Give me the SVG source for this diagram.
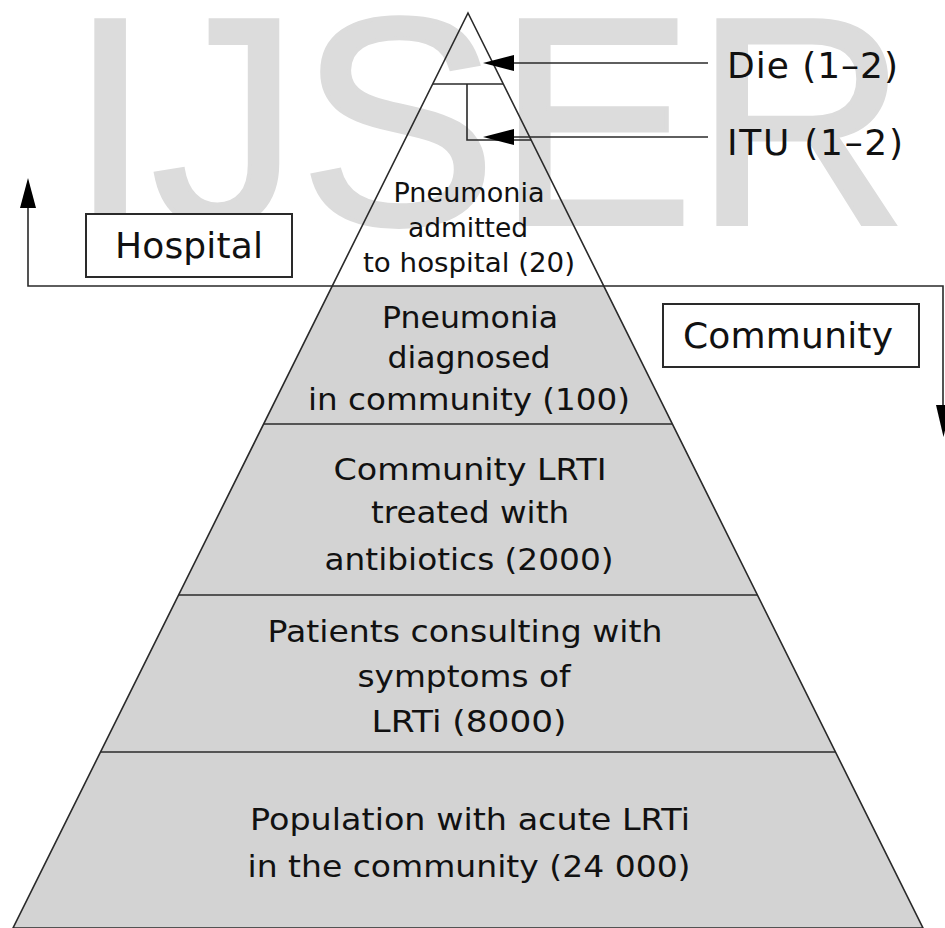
<svg xmlns="http://www.w3.org/2000/svg" width="945" height="928" viewBox="0 0 945 928">
<style>
.wm{font-family:"Liberation Sans",Arial,sans-serif;font-size:296px;fill:#dcdcdc;stroke:#dcdcdc;stroke-width:4}
.t{font-family:"DejaVu Sans","Liberation Sans",sans-serif;fill:#111;text-anchor:middle}
.s26{font-size:26px}
.s30{font-size:30px}
.s36{font-size:36px}
.ln{stroke:#2a2a2a;stroke-width:1.6;fill:none}
.box{fill:#fff;stroke:#2a2a2a;stroke-width:2}
.ah{fill:#000}
</style>
<rect width="945" height="928" fill="#fff"/>
<text class="wm" x="69" y="224">IJSER</text>

<g id="pyramid">
<polygon points="332,286 604,286 923,928 13,928" fill="#d3d3d3"/>
<polygon points="468,13 923,928 13,928" class="ln"/>
</g>

<g id="connectors">
<line class="ln" x1="433" y1="84" x2="503" y2="84"/>
<polyline class="ln" points="467,84 467,140 531,140"/>
<line class="ln" x1="500" y1="63" x2="708" y2="63"/>
<polygon class="ah" points="483,63 514,55 514,71"/>
<line class="ln" x1="500" y1="137" x2="708" y2="137"/>
<polygon class="ah" points="483,137 514,129 514,145"/>
<polyline class="ln" points="28,200 28,286 943,286 943,410"/>
<polygon class="ah" points="28,178 20,208 36,208"/>
<polygon class="ah" points="943.5,437 936,405 951,405"/>
<line class="ln" x1="264" y1="424" x2="672" y2="424"/>
<line class="ln" x1="178" y1="595" x2="758" y2="595"/>
<line class="ln" x1="100" y1="752" x2="836" y2="752"/>
</g>

<g id="die">
<text class="t s36" x="727" y="78" style="text-anchor:start" textLength="171">Die (1–2)</text>
</g>
<g id="itu">
<text class="t s36" x="727" y="155" style="text-anchor:start" textLength="176">ITU (1–2)</text>
</g>
<g id="hospital">
<rect class="box" x="86" y="214" width="206" height="63"/>
<text class="t s36" x="189" y="258" textLength="148">Hospital</text>
</g>
<g id="community">
<rect class="box" x="663" y="304" width="256" height="63"/>
<text class="t s36" x="788" y="348" textLength="210">Community</text>
</g>

<g id="level-hospital">
<text class="t s26" x="469" y="202" textLength="151" lengthAdjust="spacingAndGlyphs">Pneumonia</text>
<text class="t s26" x="468" y="237" textLength="120" lengthAdjust="spacingAndGlyphs">admitted</text>
<text class="t s26" x="469" y="272" textLength="212" lengthAdjust="spacingAndGlyphs">to hospital (20)</text>
</g>
<g id="level-diagnosed">
<text class="t s30" x="470" y="328" textLength="176" lengthAdjust="spacingAndGlyphs">Pneumonia</text>
<text class="t s30" x="469" y="368" textLength="163" lengthAdjust="spacingAndGlyphs">diagnosed</text>
<text class="t s30" x="469" y="410" textLength="322" lengthAdjust="spacingAndGlyphs">in community (100)</text>
</g>
<g id="level-antibiotics">
<text class="t s30" x="470" y="480" textLength="273" lengthAdjust="spacingAndGlyphs">Community LRTI</text>
<text class="t s30" x="470" y="523" textLength="198" lengthAdjust="spacingAndGlyphs">treated with</text>
<text class="t s30" x="469" y="570" textLength="289" lengthAdjust="spacingAndGlyphs">antibiotics (2000)</text>
</g>
<g id="level-consulting">
<text class="t s30" x="465" y="642" textLength="395" lengthAdjust="spacingAndGlyphs">Patients consulting with</text>
<text class="t s30" x="464" y="687" textLength="213" lengthAdjust="spacingAndGlyphs">symptoms of</text>
<text class="t s30" x="469" y="732" textLength="195" lengthAdjust="spacingAndGlyphs">LRTi (8000)</text>
</g>
<g id="level-population">
<text class="t s30" x="470" y="830" textLength="440" lengthAdjust="spacingAndGlyphs">Population with acute LRTi</text>
<text class="t s30" x="469" y="877" textLength="443" lengthAdjust="spacingAndGlyphs">in the community (24 000)</text>
</g>
</svg>
